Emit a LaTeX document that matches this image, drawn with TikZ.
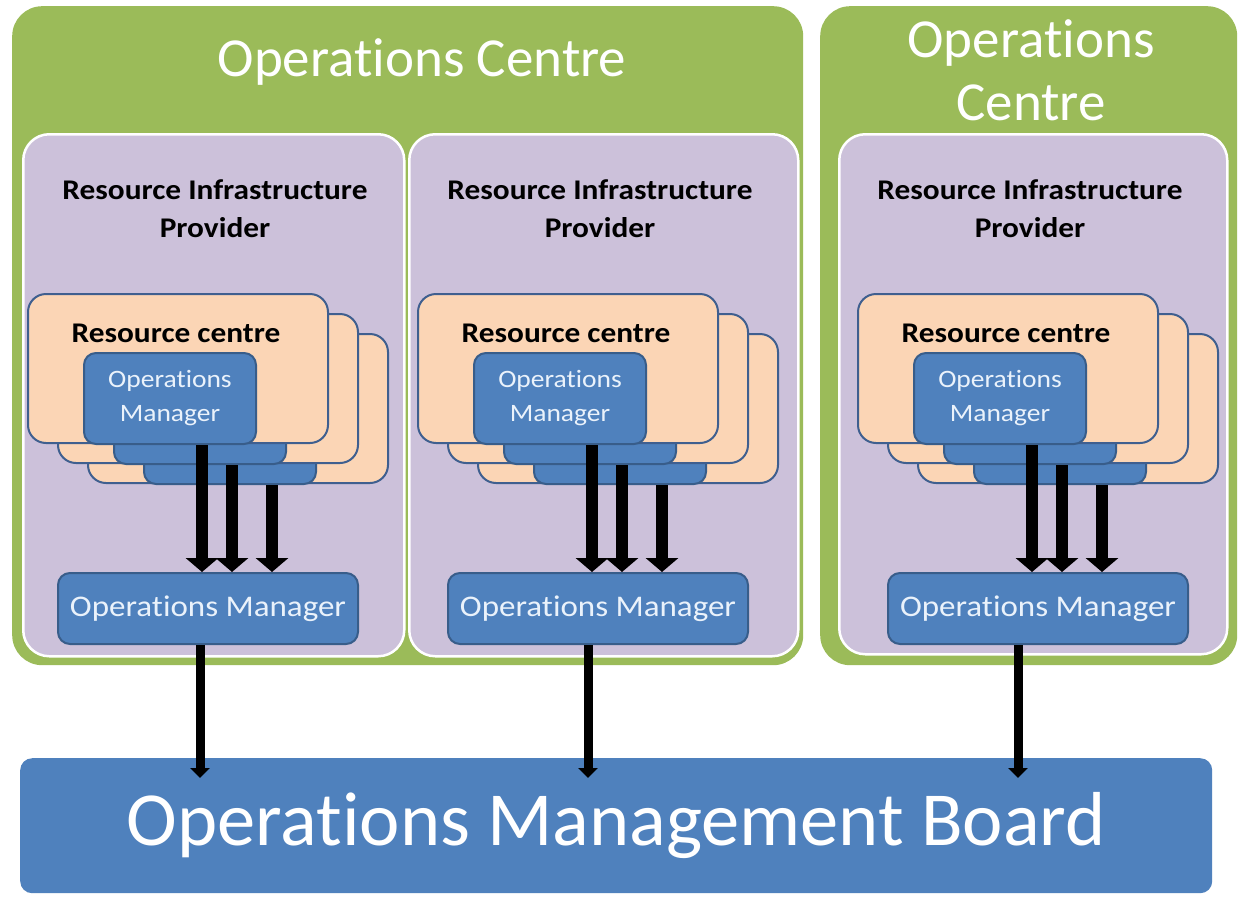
\documentclass[tikz,border=0pt]{standalone}
\usepackage{fontspec}
\setmainfont{Carlito}[Ligatures=NoCommon]
\newfontfamily\widefont{Carlito}[Ligatures=NoCommon, FakeStretch=1.1]
\usetikzlibrary{arrows.meta,calc}
\definecolor{ocgreen}{HTML}{9BBB59}
\definecolor{ripurple}{HTML}{CCC1DA}
\definecolor{rcpeach}{HTML}{FBD5B5}
\definecolor{ombl}{HTML}{4F81BD}
\definecolor{omedge}{HTML}{385D8A}
\definecolor{omtext}{HTML}{EAF2FB}
\definecolor{rcedge}{HTML}{3F5F8F}
\begin{document}
\begin{tikzpicture}[x=1pt,y=-1pt,
  base/.style={inner sep=0pt, anchor=north west},
  greenbox/.style={base, fill=ocgreen, rounded corners=30pt},
  ripbox/.style={base, fill=ripurple, draw=white, line width=2.5pt, rounded corners=26pt},
  rcbox/.style={base, fill=rcpeach, draw=rcedge, line width=2pt, rounded corners=18pt,
     minimum width=300pt, minimum height=149pt},
  ombox/.style={base, fill=ombl, draw=omedge, line width=2pt, rounded corners=12pt,
     minimum width=172pt, minimum height=91pt, text=omtext, align=center,
     font=\widefont\fontsize{25}{34}\selectfont},
  mgrbox/.style={base, fill=ombl, draw=omedge, line width=2pt, rounded corners=12pt,
     minimum width=300pt, minimum height=71pt, text=omtext,
     font=\widefont\fontsize{30}{34}\selectfont},
  titletext/.style={text=white, align=center, font=\fontsize{55}{63}\selectfont},
  riptext/.style={align=center, font=\widefont\bfseries\fontsize{28.5}{38}\selectfont},
  rctext/.style={font=\widefont\bfseries\fontsize{28.5}{34}\selectfont},
  bigarr/.style={draw=black, line width=12pt, -{Triangle[length=14pt,width=32pt]}},
  downarr/.style={draw=black, line width=9pt, -{Triangle[length=10pt,width=19pt]}},
]
\useasboundingbox (0,0) rectangle (1239,897);
\fill[white] (0,0) rectangle (1239,897);

% Operations Centres
\node[greenbox, minimum width=791pt, minimum height=659pt] (oc1) at (12,6) {};
\node[greenbox, minimum width=417pt, minimum height=659pt] (oc2) at (820,6) {};
\node[titletext] (oc1t) at (422,62) {Operations Centre};
\node[titletext] (oc2t) at (1031,70) {Operations\\Centre};

% Resource Infrastructure Providers
\node[ripbox, minimum width=381pt, minimum height=522pt] (rip1) at (22,133) {};
\node[ripbox, minimum width=389pt, minimum height=522pt] (rip2) at (408,133) {};
\node[ripbox, minimum width=388pt, minimum height=520pt] (rip3) at (838,133) {};

\foreach \c/\dx/\cx in {1/0/215, 2/390/600, 3/830/1030}{
  \node[riptext] (ript\c) at (\cx,209) {Resource Infrastructure\\Provider};
  % stack of resource centres, back to front
  \node[rcbox] (rc\c c) at (87+\dx,333) {};
  \node[ombox] (om\c c) at (143+\dx,392) {};
  \node[rcbox] (rc\c b) at (57+\dx,313) {};
  \node[ombox] (om\c b) at (113+\dx,372) {};
  \node[rcbox] (rc\c a) at (27+\dx,293) {};
  \node[ombox] (om\c a) at (83+\dx,352) {Operations\\Manager};
  \node[rctext] (rct\c) at (176+\dx,333) {Resource centre};
  % operations manager of the provider
  \node[mgrbox] (mgr\c) at (57+\dx,572) {Operations Manager};
  \coordinate (xa\c) at (202+\dx,0);
  \coordinate (xb\c) at (232+\dx,0);
  \coordinate (xc\c) at (272+\dx,0);
  \draw[bigarr] (xa\c |- om\c a.south) -- (xa\c |- mgr\c.north);
  \draw[bigarr] (xb\c |- om\c b.south) -- (xb\c |- mgr\c.north);
  \draw[bigarr] (xc\c |- om\c c.south) -- (xc\c |- mgr\c.north);
}

% Operations Management Board
\node[base, fill=ombl, rounded corners=12pt, minimum width=1192pt, minimum height=135pt,
  text=white, font=\fontsize{76.5}{80}\selectfont] (omb) at (20,758) {Operations Management Board};

\coordinate (d1) at (200,0);
\coordinate (d2) at (588,0);
\coordinate (d3) at (1018,0);
\foreach \c in {1,2,3}{
  \draw[downarr] (d\c |- mgr\c.south) -- ($(d\c |- omb.north)+(0,20)$);
}
\end{tikzpicture}
\end{document}
